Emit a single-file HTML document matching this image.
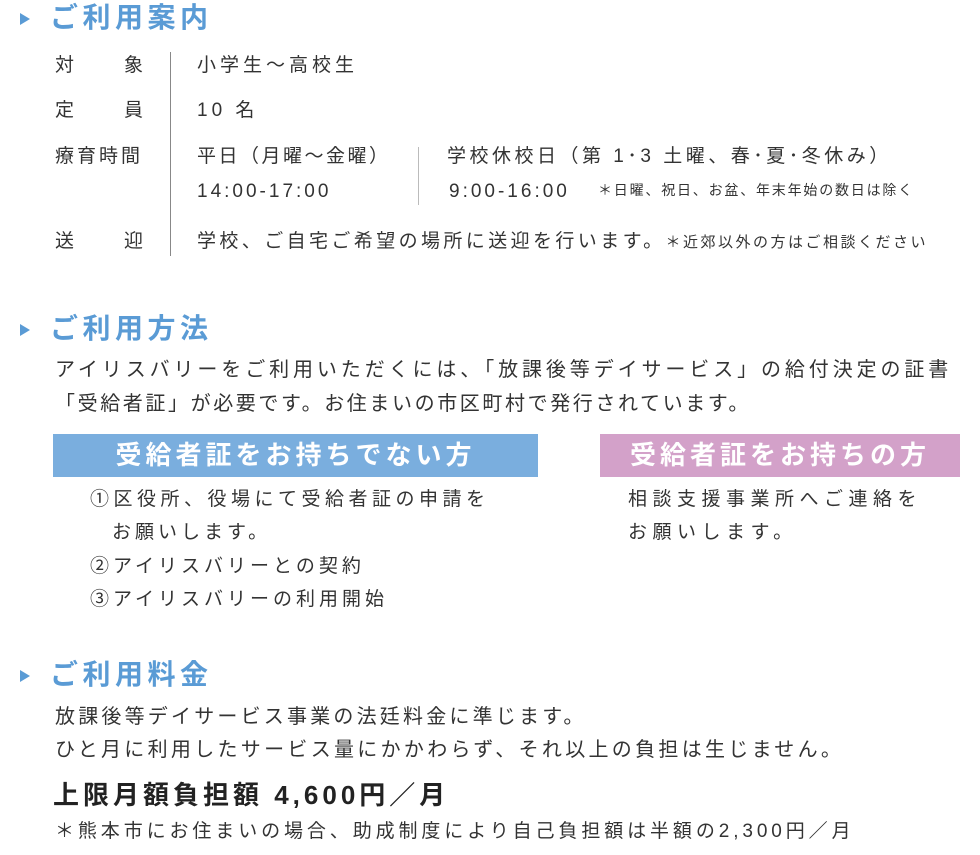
<!DOCTYPE html>
<html><head><meta charset="utf-8"><style>
body{margin:0;width:980px;height:855px;background:#fff;position:relative;overflow:hidden;font-family:"Liberation Sans","Noto Sans CJK JP",sans-serif;color:#333}
.a{position:absolute;white-space:nowrap;line-height:1}
.t{color:#5a9bd5;font-size:28px;font-weight:bold;letter-spacing:4.5px}
.tri{position:absolute;width:0;height:0;border-top:6px solid transparent;border-bottom:6px solid transparent;border-left:10px solid #5a9bd5}
.v{font-size:19px;letter-spacing:4px}
.p{font-size:20px;letter-spacing:3.5px}
.box{position:absolute;height:43px;color:#fff;font-weight:bold;font-size:26px;letter-spacing:4px;text-align:center;line-height:43px}
.l{position:absolute;background:#888;width:1px}
</style></head><body>
<div class="tri" style="left:20px;top:13px"></div>
<div class="a t" style="left:50px;top:4px">ご利用案内</div>
<div class="a v" style="left:55px;top:56px">対</div><div class="a v" style="left:124px;top:56px">象</div>
<div class="a v" style="left:55px;top:101px">定</div><div class="a v" style="left:124px;top:101px">員</div>
<div class="a v" style="left:55px;top:147px;letter-spacing:3px">療育時間</div>
<div class="a v" style="left:55px;top:232px">送</div><div class="a v" style="left:124px;top:232px">迎</div>
<div class="l" style="left:170px;top:52px;height:204px"></div>
<div class="a v" style="left:197px;top:56px">小学生〜高校生</div>
<div class="a v" style="left:197px;top:101px">10 名</div>
<div class="a v" style="left:197px;top:147px;letter-spacing:2.5px">平日（月曜〜金曜）</div>
<div class="a v" style="left:197px;top:182px;letter-spacing:3px">14:00-17:00</div>
<div class="l" style="left:418px;top:147px;height:58px;background:#bbb"></div>
<div class="a v" style="left:447px;top:147px;letter-spacing:3.5px">学校休校日（第 1･3 土曜、春･夏･冬休み）</div>
<div class="a v" style="left:449px;top:182px;letter-spacing:3px">9:00-16:00</div>
<div class="a" style="left:598px;top:183px;font-size:14px;letter-spacing:1.8px">＊日曜、祝日、お盆、年末年始の数日は除く</div>
<div class="a v" style="left:197px;top:232px;letter-spacing:3.4px">学校、ご自宅ご希望の場所に送迎を行います。<span style="font-size:15px;letter-spacing:2.5px">＊近郊以外の方はご相談ください</span></div>

<div class="tri" style="left:20px;top:324px"></div>
<div class="a t" style="left:50px;top:315px">ご利用方法</div>
<div class="a p" style="left:55px;top:360px;letter-spacing:3.9px">アイリスバリーをご利用いただくには、「放課後等デイサービス」の給付決定の証書</div>
<div class="a p" style="left:55px;top:394px;letter-spacing:2.6px">「受給者証」が必要です。お住まいの市区町村で発行されています。</div>
<div class="box" style="left:53px;top:434px;width:485px;background:#7aaede">受給者証をお持ちでない方</div>
<div class="box" style="left:600px;top:434px;width:360px;background:#d3a1c9">受給者証をお持ちの方</div>
<div class="a v" style="left:90px;top:490px;letter-spacing:4.5px">①区役所、役場にて受給者証の申請を</div>
<div class="a v" style="left:112px;top:523px">お願いします。</div>
<div class="a v" style="left:90px;top:557px">②アイリスバリーとの契約</div>
<div class="a v" style="left:90px;top:590px">③アイリスバリーの利用開始</div>
<div class="a v" style="left:628px;top:490px;letter-spacing:5.5px">相談支援事業所へご連絡を</div>
<div class="a v" style="left:628px;top:523px;letter-spacing:5.5px">お願いします。</div>

<div class="tri" style="left:20px;top:670px"></div>
<div class="a t" style="left:50px;top:661px">ご利用料金</div>
<div class="a p" style="left:55px;top:707px;letter-spacing:3.2px">放課後等デイサービス事業の法廷料金に準じます。</div>
<div class="a p" style="left:55px;top:740px;letter-spacing:3.3px">ひと月に利用したサービス量にかかわらず、それ以上の負担は生じません。</div>
<div class="a" style="left:53px;top:782px;font-size:26px;font-weight:bold;letter-spacing:4px;color:#222">上限月額負担額 4,600円／月</div>
<div class="a v" style="left:55px;top:822px;letter-spacing:3.9px">＊熊本市にお住まいの場合、助成制度により自己負担額は半額の2,300円／月</div>
</body></html>
